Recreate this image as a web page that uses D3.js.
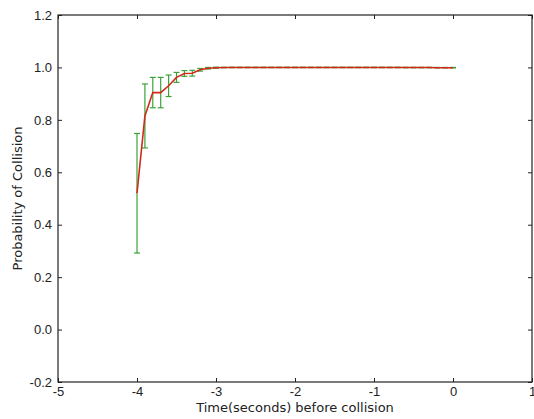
<!DOCTYPE html>
<html>
<head>
<meta charset="utf-8">
<script src="https://cdn.jsdelivr.net/npm/d3@7"></script>
<style>
  body { margin: 0; background: #fff; }
  svg { display: block; font-family: 'DejaVu Sans', sans-serif; }
  .tick text { font-size: 13px; fill: #222; }
</style>
</head>
<body>
<div class="chart"></div>
<script>
// time before collision (seconds)
const times = d3.range(41).map((i) => Math.round((-4 + i * 0.1) * 10) / 10);

// mean probability at each time step
const means = [
	0.52, 0.815, 0.904, 0.904, 0.93, 0.962, 0.977, 0.978, 0.991, 0.997,
	0.999, 0.9995, 1.0, 1.0, 1.0, 1.0, 1.0, 1.0, 1.0, 1.0,
	1.0, 1.0, 1.0, 1.0, 1.0, 1.0, 1.0, 1.0, 1.0, 1.0,
	1.0, 1.0, 1.0, 1.0, 0.9995, 0.9995, 0.9995, 0.9995, 0.999, 0.999, 0.999
];

// half height of the error bar
const errs = [
	0.228, 0.122, 0.058, 0.058, 0.041, 0.019, 0.011, 0.011, 0.005, 0.003,
	0.002, 0.001, 0.001, 0.001, 0.001, 0.001, 0.001, 0.001, 0.001, 0.001,
	0.001, 0.001, 0.001, 0.001, 0.001, 0.001, 0.001, 0.001, 0.001, 0.001,
	0.001, 0.001, 0.001, 0.001, 0.001, 0.001, 0.001, 0.001, 0.001, 0.001, 0.001
];

const xTicks = [-5, -4, -3, -2, -1, 0, 1];
const yTicks = [-0.2, 0.0, 0.2, 0.4, 0.6, 0.8, 1.0, 1.2];

const points = times.map((t, i) => ({ t: t, m: means[i], e: errs[i] }));

const W = 534, H = 419;
const margin = { top: 15, right: 2, bottom: 37, left: 58 };
const width = W - margin.left - margin.right;
const height = H - margin.top - margin.bottom;

const x = d3.scaleLinear().domain([-5, 1]).range([0, width]);
const y = d3.scaleLinear().domain([-0.2, 1.2]).range([height, 0]);

const svg = d3.select('.chart').append('svg')
	.attr('width', W)
	.attr('height', H)
	.append('g')
	.attr('transform', 'translate(' + margin.left + ',' + margin.top + ')');

// plain hyphen minus like matplotlib, not the unicode one d3 uses
const fmtX = (d) => String(d);
const fmtY = (d) => d.toFixed(1);

// inward ticks on all four sides, like old matplotlib
svg.append('g').attr('class', 'axis').attr('transform', 'translate(0,' + height + ')')
	.call(d3.axisBottom(x).tickValues(xTicks).tickFormat(fmtX).tickSizeInner(-4).tickSizeOuter(0).tickPadding(5));
svg.append('g').attr('class', 'axis')
	.call(d3.axisTop(x).tickValues(xTicks).tickFormat('').tickSizeInner(-4).tickSizeOuter(0));
svg.append('g').attr('class', 'axis')
	.call(d3.axisLeft(y).tickValues(yTicks).tickFormat(fmtY).tickSizeInner(-4).tickSizeOuter(0).tickPadding(6));
svg.append('g').attr('class', 'axis').attr('transform', 'translate(' + width + ',0)')
	.call(d3.axisRight(y).tickValues(yTicks).tickFormat('').tickSizeInner(-4).tickSizeOuter(0));

svg.selectAll('.axis .domain').remove();
svg.selectAll('.axis .tick line').attr('stroke', '#222');

// error bars
const eb = svg.append('g').attr('class', 'errorbars')
	.attr('stroke', '#3aa33a').attr('stroke-width', 1.2);

eb.selectAll('.vbar').data(points).enter().append('line')
	.attr('x1', (d) => x(d.t)).attr('x2', (d) => x(d.t))
	.attr('y1', (d) => y(d.m - d.e)).attr('y2', (d) => y(d.m + d.e));

eb.selectAll('.capTop').data(points).enter().append('line')
	.attr('x1', (d) => x(d.t) - 3).attr('x2', (d) => x(d.t) + 3)
	.attr('y1', (d) => y(d.m + d.e)).attr('y2', (d) => y(d.m + d.e));

eb.selectAll('.capBot').data(points).enter().append('line')
	.attr('x1', (d) => x(d.t) - 3).attr('x2', (d) => x(d.t) + 3)
	.attr('y1', (d) => y(d.m - d.e)).attr('y2', (d) => y(d.m - d.e));

// mean line
const line = d3.line().x((d) => x(d.t)).y((d) => y(d.m));
svg.append('path').datum(points)
	.attr('d', line)
	.attr('fill', 'none')
	.attr('stroke', '#d22a1a')
	.attr('stroke-width', 1.6);

// frame
svg.append('rect')
	.attr('width', width).attr('height', height)
	.attr('fill', 'none').attr('stroke', '#222').attr('stroke-width', 1.2);

// axis labels
svg.append('text')
	.attr('x', width / 2).attr('y', height + 30)
	.style('text-anchor', 'middle').style('font-size', '13px').attr('fill', '#222')
	.text('Time(seconds) before collision');

svg.append('text')
	.attr('transform', 'rotate(-90)')
	.attr('x', -height / 2).attr('y', -36)
	.style('text-anchor', 'middle').style('font-size', '13px').attr('fill', '#222')
	.text('Probability of Collision');
</script>
</body>
</html>
